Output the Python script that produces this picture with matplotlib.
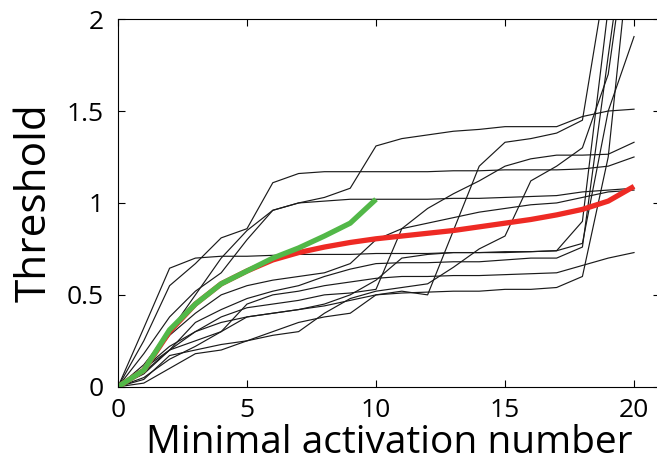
import numpy as np
import matplotlib
matplotlib.use('Agg')
import matplotlib.pyplot as plt

# activation numbers 0..20
act = np.arange(21)

# individual threshold curves (black)
thr_runs = [
    [0, .25, .55, .67, .81, .86, 1.11, 1.16, 1.17, 1.17, 1.17, 1.17, 1.17, 1.175, 1.175, 1.18, 1.18, 1.18, 1.185, 1.20, 1.25],
    [0, .12, .30, .50, .70, .85, .96, 1.0, 1.03, 1.08, 1.31, 1.35, 1.37, 1.39, 1.40, 1.415, 1.415, 1.415, 1.47, 1.50, 1.51],
    [0, .18, .38, .52, .62, .80, .96, 1.0, 1.01, 1.02, 1.02, 1.02, 1.02, 1.025, 1.025, 1.03, 1.035, 1.04, 1.06, 1.07, 1.08],
    [0, .32, .645, .70, .71, .71, .715, .72, .72, .72, .725, .725, .725, .73, .73, .73, .735, .74, .90, 2.06, 3.0],
    [0, .10, .28, .40, .50, .55, .58, .60, .62, .67, .80, .86, .89, .92, .95, .97, .99, 1.0, 1.03, 1.06, 1.07],
    [0, .05, .15, .22, .30, .38, .40, .42, .44, .47, .50, .52, .50, .85, 1.20, 1.33, 1.35, 1.38, 1.45, 2.3, 3.0],
    [0, .07, .20, .30, .38, .43, .45, .47, .50, .51, .53, .86, .97, 1.05, 1.12, 1.20, 1.24, 1.26, 1.26, 1.265, 1.33],
    [0, .08, .20, .25, .30, .45, .50, .52, .55, .57, .59, .60, .60, .605, .605, .61, .615, .62, .66, .70, .73],
    [0, .10, .20, .35, .42, .48, .52, .55, .60, .64, .67, .675, .675, .68, .68, .69, .70, .70, .76, 1.80, 2.8],
    [0, .10, .22, .30, .35, .38, .40, .42, .45, .50, .58, .70, .72, .73, .73, .735, .735, .74, .78, 1.50, 1.905],
    [0, .04, .17, .20, .23, .25, .28, .30, .40, .48, .52, .54, .56, .65, .75, .82, 1.12, 1.20, 1.30, 1.70, 2.7],
    [0, .02, .10, .18, .20, .25, .30, .35, .38, .40, .50, .51, .515, .52, .52, .53, .53, .54, .60, 1.25, 2.6],
]

# mean curve (red) and short-range fit (green)
thr_mean = [0, .09, .30, .45, .56, .63, .69, .73, .76, .785, .805, .82, .835, .85, .87, .89, .91, .935, .965, 1.01, 1.09]
act_fit = np.arange(11)
thr_fit = [0, .09, .31, .45, .56, .63, .70, .755, .82, .89, 1.02]

fig = plt.figure(figsize=(6.57, 4.66), dpi=100)
ax = fig.add_axes([0.1796, 0.170, 0.8247, 0.789])

for run in thr_runs:
    ax.plot(act, run, color='#1a1a1a', lw=0.85)
ax.plot(act, thr_mean, color='#ee2a24', lw=3.8, solid_capstyle='butt')
ax.plot(act_fit, thr_fit, color='#52b848', lw=3.8, solid_capstyle='butt')

ax.set_xlim(0, 21)
ax.set_ylim(0, 2)
ax.set_xticks([0, 5, 10, 15, 20])
ax.set_yticks([0, 0.5, 1, 1.5, 2])
ax.set_yticklabels(['0', '0.5', '1', '1.5', '2'])
ax.tick_params(direction='in', length=5, width=0.8, top=True, right=True,
               labelsize=19)
ax.tick_params(axis='x', pad=8)
ax.tick_params(axis='y', pad=10)
for t in ax.get_xticklabels() + ax.get_yticklabels():
    t.set_fontfamily('Open Sans')
for sp in ax.spines.values():
    sp.set_linewidth(0.8)

ax.set_xlabel('Minimal activation number', fontsize=28, family='Open Sans', labelpad=1)
ax.set_ylabel('Threshold', fontsize=30.5, family='Open Sans', labelpad=8)

fig.savefig('out.png', dpi=100)
